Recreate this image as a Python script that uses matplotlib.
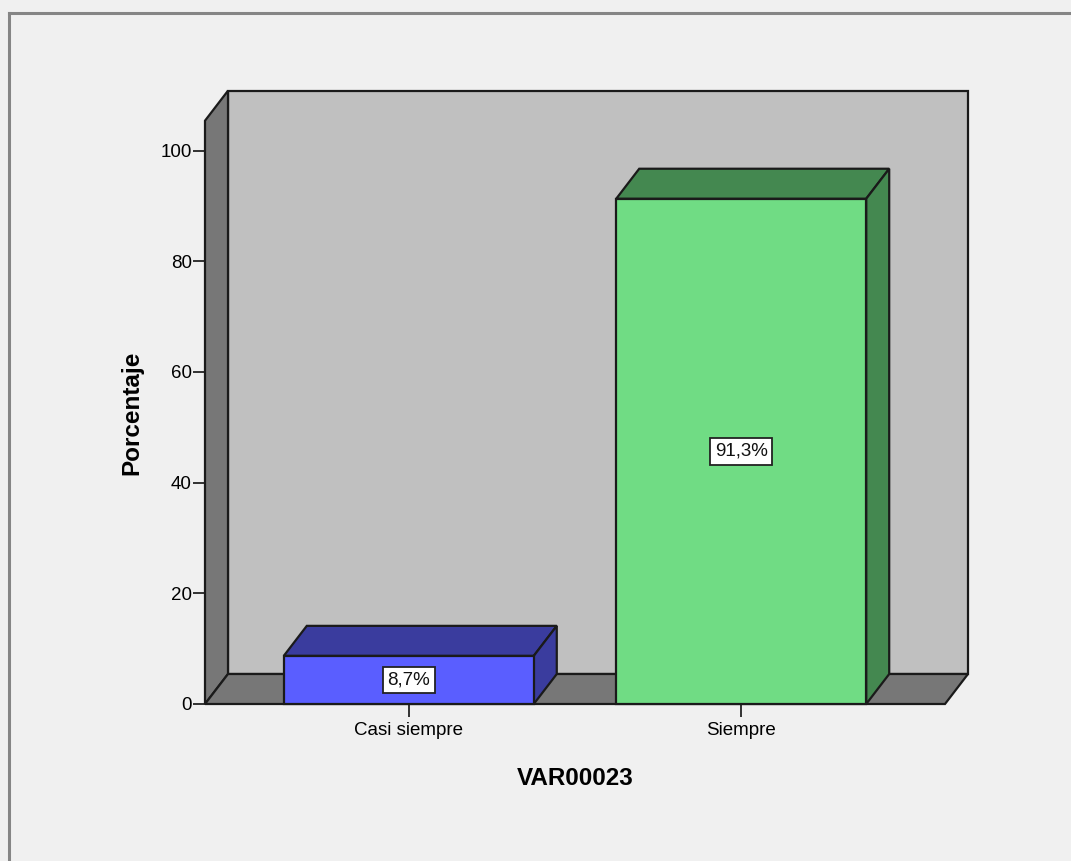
import matplotlib
matplotlib.use("Agg")
import matplotlib.pyplot as plt
from matplotlib.patches import Polygon, Rectangle
from matplotlib.lines import Line2D

# Data
categories = ["Casi siempre", "Siempre"]
percentages = [8.7, 91.3]
value_labels = ["8,7%", "91,3%"]
y_ticks = [0, 20, 40, 60, 80, 100]
x_title = "VAR00023"
y_title = "Porcentaje"

# Style
front_colors = ["#5a5eff", "#70dc84"]
shade_colors = ["#3a3c9e", "#448850"]
wall_back = "#c0c0c0"
wall_side = "#777777"
fig_bg = "#f0f0f0"

plt.rcParams["font.family"] = ["Liberation Sans", "DejaVu Sans"]

W, H, DPI = 1071, 861, 100
fig = plt.figure(figsize=(W / DPI, H / DPI), dpi=DPI, facecolor=fig_bg)

ax_left, ax_right, ax_bottom, ax_top = 205, 945, 704, 120.7  # pixel frame
ax = fig.add_axes([ax_left / W, (H - ax_bottom) / H,
                   (ax_right - ax_left) / W, (ax_bottom - ax_top) / H])
ax.set_facecolor("none")

xmin, xmax = -0.613, 1.613
ymax = 105.4
ax.set_xlim(xmin, xmax)
ax.set_ylim(0, ymax)

# depth offset of the 3D box, converted from pixels to data units
depth_px = (23, 30)
DX = depth_px[0] * (xmax - xmin) / (ax_right - ax_left)
DY = depth_px[1] * ymax / (ax_bottom - ax_top)

edge = dict(edgecolor="#1a1a1a", linewidth=1.6, joinstyle="miter", clip_on=False)

# Walls and floor
ax.add_patch(Polygon([(xmin + DX, DY), (xmax + DX, DY), (xmax + DX, ymax + DY),
                      (xmin + DX, ymax + DY)], facecolor=wall_back, **edge, zorder=1))
ax.add_patch(Polygon([(xmin, 0), (xmin + DX, DY), (xmin + DX, ymax + DY), (xmin, ymax)],
                     facecolor=wall_side, **edge, zorder=2))
ax.add_patch(Polygon([(xmin, 0), (xmax, 0), (xmax + DX, DY), (xmin + DX, DY)],
                     facecolor=wall_side, **edge, zorder=2))

# Bars
bar_w = 0.752
for i, (v, fc, sc, lab) in enumerate(zip(percentages, front_colors, shade_colors, value_labels)):
    x0, x1 = i - bar_w / 2, i + bar_w / 2
    ax.add_patch(Polygon([(x0, v), (x1, v), (x1 + DX, v + DY), (x0 + DX, v + DY)],
                         facecolor=sc, **edge, zorder=3))
    ax.add_patch(Polygon([(x1, 0), (x1 + DX, DY), (x1 + DX, v + DY), (x1, v)],
                         facecolor=sc, **edge, zorder=3))
    ax.add_patch(Rectangle((x0, 0), bar_w, v, facecolor=fc, **edge, zorder=4))
    ax.text(i, v / 2, lab, ha="center", va="center", fontsize=13.5, color="#111111",
            zorder=5,
            bbox=dict(boxstyle="square,pad=0.25", facecolor="white",
                      edgecolor="#222222", linewidth=1.3))

# Axes ticks and labels
for s in ax.spines.values():
    s.set_visible(False)
ax.set_yticks(y_ticks)
ax.set_yticklabels([str(t) for t in y_ticks])
ax.set_xticks(range(len(categories)))
ax.set_xticklabels(categories)
ax.tick_params(axis="y", length=8.5, width=1.3, pad=1, labelsize=13.5, color="#222222")
ax.tick_params(axis="x", length=9, width=1.3, pad=4, labelsize=13.5, color="#222222")

ax.set_xlabel(x_title, fontsize=17.5, fontweight="bold", labelpad=20)
ax.set_ylabel(y_title, fontsize=17.5, fontweight="bold", labelpad=12)

# Outer frame (top and left edges)
fig.add_artist(Line2D([9 / W, 1.0], [1 - 13 / H, 1 - 13 / H], color="#858585", linewidth=2.2,
                      transform=fig.transFigure))
fig.add_artist(Line2D([9 / W, 9 / W], [0, 1 - 13 / H], color="#858585", linewidth=2.2,
                      transform=fig.transFigure))

fig.savefig("out.png", dpi=DPI, facecolor=fig_bg)
